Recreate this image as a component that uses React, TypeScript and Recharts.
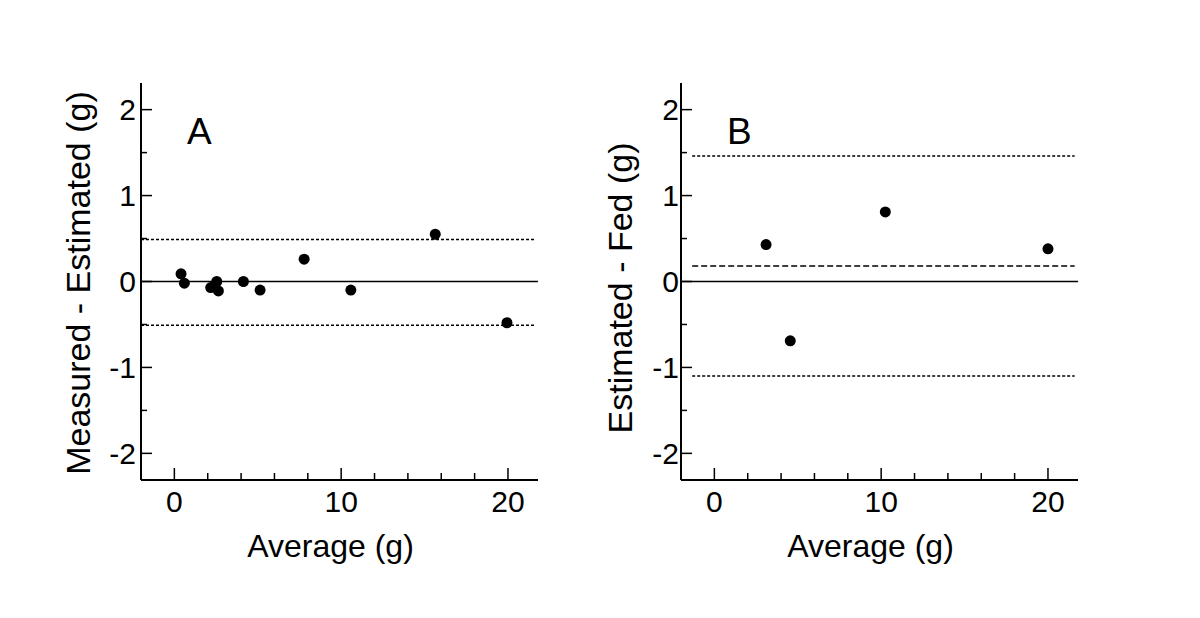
import React from 'react'
import { ScatterChart, Scatter, XAxis, YAxis, ReferenceLine, ReferenceDot } from 'recharts'

// panel A: measured vs estimated
const averageA = [0.4, 0.6, 2.18, 2.54, 2.64, 4.14, 5.14, 7.78, 10.58, 15.64, 19.94]
const diffA = [0.09, -0.02, -0.07, 0.0, -0.11, 0.0, -0.1, 0.26, -0.1, 0.55, -0.48]
const limitsA = { upper: 0.49, lower: -0.51 }

// panel B: estimated vs fed
const averageB = [3.1, 4.55, 10.25, 20.0]
const diffB = [0.43, -0.69, 0.81, 0.38]
const limitsB = { upper: 1.46, bias: 0.18, lower: -1.1 }

const xTicks = [0, 2, 4, 6, 8, 10, 12, 14, 16, 18, 20]
const yTicks = [-2, -1.5, -1, -0.5, 0, 0.5, 1, 1.5, 2]

const FONT = '"Liberation Sans", Arial, sans-serif'

const toPoints = (xs: number[], ys: number[]) => xs.map((x, i) => ({ x, y: ys[i] }))

function XTick({ x, y, payload }: any) {
  const major = payload.value % 10 === 0
  return (
    <g>
      <line x1={x} y1={y} x2={x} y2={y - (major ? 12 : 7)} stroke="#000" strokeWidth={1.5} />
      {major && (
        <text x={x} y={y + 32} textAnchor="middle" fontSize={30} fontFamily={FONT} fill="#000">
          {payload.value}
        </text>
      )}
    </g>
  )
}

function YTick({ x, y, payload, gap }: any) {
  const major = Number.isInteger(payload.value)
  return (
    <g>
      <line x1={x} y1={y} x2={x + (major ? 11 : 6)} y2={y} stroke="#000" strokeWidth={1.5} />
      {major && (
        <text x={x - gap} y={y} textAnchor="end" dominantBaseline="central" fontSize={30} fontFamily={FONT} fill="#000">
          {payload.value}
        </text>
      )}
    </g>
  )
}

function YTitle({ viewBox, text, dx, dy }: any) {
  const cx = viewBox.x + dx
  const cy = viewBox.y + viewBox.height / 2 + dy
  return (
    <text x={cx} y={cy} transform={`rotate(-90 ${cx} ${cy})`} textAnchor="middle" dominantBaseline="central"
      fontSize={34} fontFamily={FONT} fill="#000">
      {text}
    </text>
  )
}

function XTitle({ viewBox, text }: any) {
  const cx = viewBox.x + viewBox.width / 2 - 9
  return (
    <text x={cx} y={viewBox.y + 77} textAnchor="middle" fontSize={32} fontFamily={FONT} fill="#000">
      {text}
    </text>
  )
}

const Dot = (props: any) => <circle cx={props.cx} cy={props.cy} r={5.5} fill="#000" />

function Panel({ data, yTitle, letter, titleDx, titleDy, tickGap, children }: any) {
  return (
    <ScatterChart width={600} height={618} margin={{ top: 83, right: 62, left: 0, bottom: 0 }}>
      <XAxis
        type="number"
        dataKey="x"
        domain={[-2, 21.8]}
        ticks={xTicks}
        allowDataOverflow
        height={138}
        tickSize={0}
        tickMargin={0}
        tickLine={false}
        axisLine={{ stroke: '#000', strokeWidth: 2 }}
        tick={<XTick />}
        interval={0}
        label={<XTitle text="Average (g)" />}
      />
      <YAxis
        type="number"
        dataKey="y"
        domain={[-2.31, 2.31]}
        ticks={yTicks}
        allowDataOverflow
        width={141}
        tickSize={0}
        tickMargin={0}
        tickLine={false}
        axisLine={{ stroke: '#000', strokeWidth: 2 }}
        tick={<YTick gap={tickGap} />}
        interval={0}
        label={<YTitle text={yTitle} dx={titleDx} dy={titleDy} />}
      />
      {children}
      <ReferenceDot
        x={1.5}
        y={1.75}
        r={0}
        stroke="none"
        fill="none"
        label={{ value: letter, position: 'center', fontSize: 37, fontFamily: FONT, fill: '#000' }}
      />
      <Scatter data={data} shape={<Dot />} isAnimationActive={false} />
    </ScatterChart>
  )
}

export default function App() {
  return (
    <div style={{ position: 'absolute', left: 0, top: 0, width: 1200, height: 618, background: '#fff' }}>
      <div style={{ position: 'absolute', left: 0, top: 0 }}>
        <Panel data={toPoints(averageA, diffA)} yTitle="Measured - Estimated (g)" letter="A" titleDx={78} titleDy={1.5} tickGap={5}>
          <ReferenceLine y={0} stroke="#000" strokeWidth={1.5} segment={[{ x: -2, y: 0 }, { x: 21.6, y: 0 }]} />
          <ReferenceLine stroke="#000" strokeWidth={1.5} strokeDasharray="3 2"
            segment={[{ x: -2, y: limitsA.upper }, { x: 21.6, y: limitsA.upper }]} />
          <ReferenceLine stroke="#000" strokeWidth={1.5} strokeDasharray="3 2"
            segment={[{ x: -2, y: limitsA.lower }, { x: 21.6, y: limitsA.lower }]} />
        </Panel>
      </div>
      <div style={{ position: 'absolute', left: 540, top: 0 }}>
        <Panel data={toPoints(averageB, diffB)} yTitle="Estimated - Fed (g)" letter="B" titleDx={80} titleDy={6.5} tickGap={2}>
          <ReferenceLine y={0} stroke="#000" strokeWidth={1.5} segment={[{ x: -2, y: 0 }, { x: 21.6, y: 0 }]} />
          <ReferenceLine stroke="#000" strokeWidth={1.5} strokeDasharray="6 3"
            segment={[{ x: -1.33, y: limitsB.bias }, { x: 21.6, y: limitsB.bias }]} />
          <ReferenceLine stroke="#000" strokeWidth={1.5} strokeDasharray="3 2"
            segment={[{ x: -1.33, y: limitsB.upper }, { x: 21.6, y: limitsB.upper }]} />
          <ReferenceLine stroke="#000" strokeWidth={1.5} strokeDasharray="3 2"
            segment={[{ x: -1.33, y: limitsB.lower }, { x: 21.6, y: limitsB.lower }]} />
        </Panel>
      </div>
    </div>
  )
}
